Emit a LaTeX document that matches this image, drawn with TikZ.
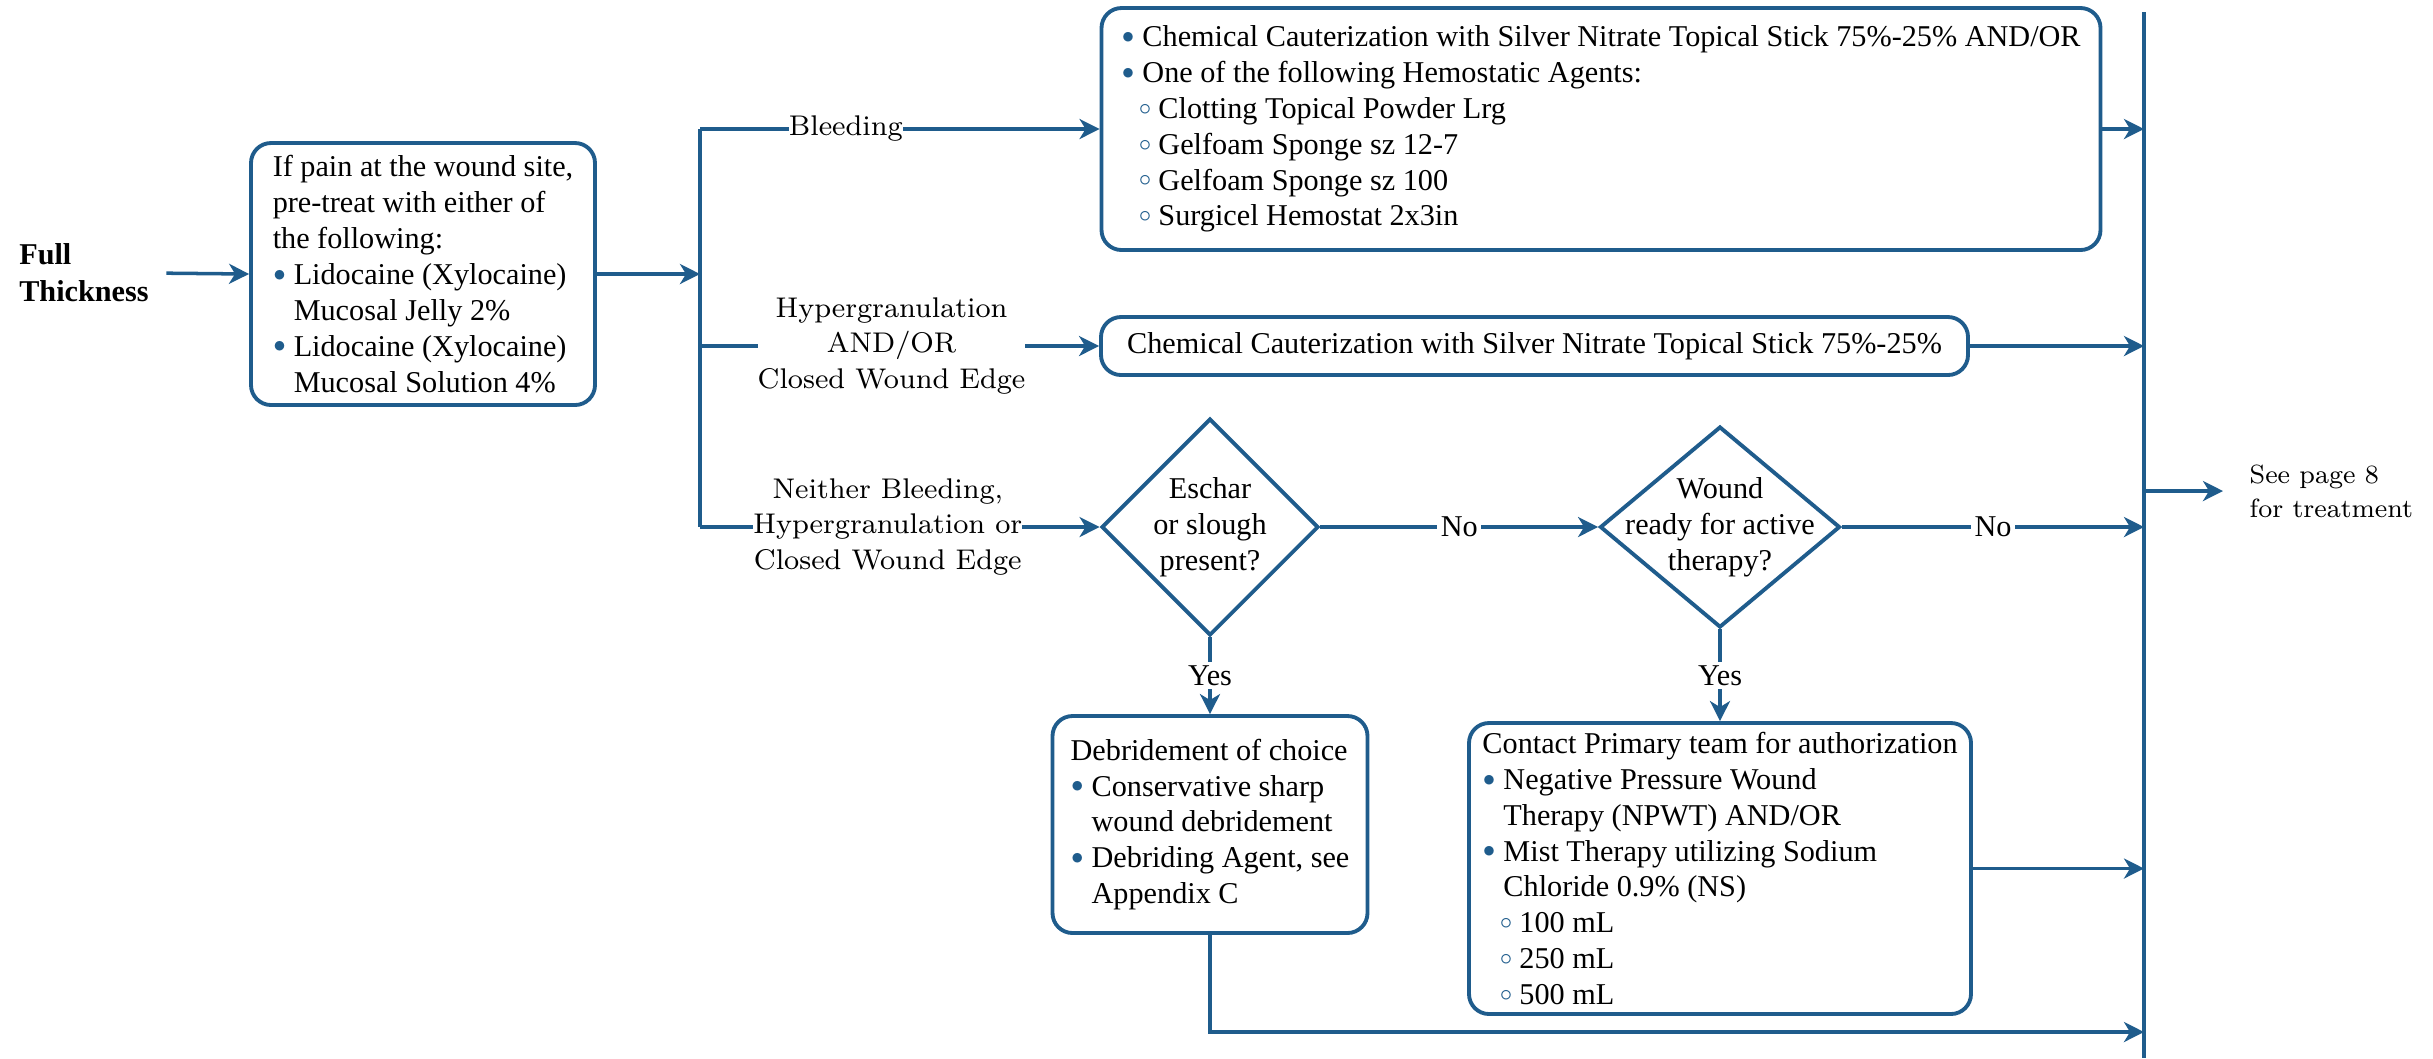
\documentclass[tikz,border=0pt]{standalone}
\usepackage{fontspec}
\usetikzlibrary{shapes.geometric,arrows.meta}
\newfontfamily\tnr{Liberation Serif}
\definecolor{vblau}{RGB}{31,92,140}
\newcommand{\pkt}{\makebox[0.21cm][l]{\raisebox{0.3ex}{\textcolor{vblau}{${\scriptstyle\bullet}$}}}}
\newcommand{\krs}{\hspace*{0.17cm}\makebox[0.2cm][l]{\raisebox{0.3ex}{\textcolor{vblau}{${\scriptstyle\circ}$}}}}
\newcommand{\einr}{\hspace*{0.21cm}}

\begin{document}
\begin{tikzpicture}[
	box/.style={draw=vblau, line width=1.1pt, rounded corners=0.2cm, align=left, inner xsep=0.1cm, inner ysep=0pt, font=\tnr\fontsize{8.6}{10.2}\selectfont},
	frage/.style={diamond, draw=vblau, line width=1.1pt, inner sep=0pt},
	ftext/.style={align=center, inner sep=0pt, font=\tnr\fontsize{8.6}{10.2}\selectfont},
	linie/.style={draw=vblau, line width=1pt},
	pfeil/.style={linie, -{Stealth[length=2mm, width=2mm, inset=0.6mm]}},
	zweig/.style={fill=white, inner xsep=0pt, inner ysep=1pt, align=center, font=\fontsize{8.1}{10.2}\selectfont},
	jn/.style={fill=white, inner sep=1pt, font=\tnr\fontsize{8.6}{10.2}\selectfont}]
	\path[use as bounding box] (0,0) rectangle (24.33,-10.58); % Rand um Grafik
	
	\node[font=\tnr\bfseries\fontsize{8.6}{10.5}\selectfont, align=left, anchor=west, inner sep=0pt] (full) at (0.186,-2.73) {Full\\Thickness};
	\node[box, minimum width=3.44cm, minimum height=2.62cm] (schmerz) at (4.23,-2.74) {If pain at the wound site,\\pre-treat with either of\\the following:\\\pkt Lidocaine (Xylocaine)\\\einr Mucosal Jelly 2\%\\\pkt Lidocaine (Xylocaine)\\\einr Mucosal Solution 4\%};
	\draw[pfeil, shorten <=0.17cm] (full.east) -- (schmerz.west);
	
	% Verzweigung
	\coordinate (vo) at (7.00,-1.29);
	\coordinate (vu) at (7.00,-5.27);
	\draw[linie] (vo) -- (vu);
	\draw[pfeil] (schmerz.east) -- (schmerz.east -| vo);
	
	\node[box, minimum width=9.99cm, minimum height=2.42cm] (blutung) at (16.01,-1.29) {\pkt Chemical Cauterization with Silver Nitrate Topical Stick 75\%-25\% AND/OR\\\pkt One of the following Hemostatic Agents:\\\krs Clotting Topical Powder Lrg\\\krs Gelfoam Sponge sz 12-7\\\krs Gelfoam Sponge sz 100\\\krs Surgicel Hemostat 2x3in};
	\node[box, align=center, minimum width=8.67cm, minimum height=0.58cm] (aetzen) at (15.345,-3.46) {Chemical Cauterization with Silver Nitrate Topical Stick 75\%-25\%};
	
	\node[frage, minimum width=2.17cm, minimum height=2.17cm] (d1) at (12.10,-5.27) {};
	\node[ftext] (d1t) at (d1) {Eschar\\or slough\\present?};
	\node[frage, minimum width=2.40cm, minimum height=2.01cm] (d2) at (17.20,-5.27) {};
	\node[ftext] (d2t) at (d2) {Wound\\ready for active\\therapy?};
	
	\draw[pfeil] (vo) -- node[zweig, pos=0.365] (lb1) {Bleeding} (blutung.west);
	\draw[pfeil] (vo |- aetzen) -- node[zweig, pos=0.48] (lb2) {Hypergranulation\\AND/OR\\Closed Wound Edge} (aetzen.west);
	\draw[pfeil] (vu) -- node[zweig, pos=0.47] (lb3) {Neither Bleeding,\\Hypergranulation or\\Closed Wound Edge} (d1.west);
	
	\node[box, minimum width=3.15cm, minimum height=2.17cm] (debr) at (12.10,-8.245) {Debridement of choice\\\pkt Conservative sharp\\\einr wound debridement\\\pkt Debriding Agent, see\\\einr Appendix C};
	\node[box, minimum width=5.02cm, minimum height=2.91cm] (npwt) at (17.20,-8.685) {Contact Primary team for authorization\\\pkt Negative Pressure Wound\\\einr Therapy (NPWT) AND/OR\\\pkt Mist Therapy utilizing Sodium\\\einr Chloride 0.9\% (NS)\\\krs 100 mL\\\krs 250 mL\\\krs 500 mL};
	
	% Sammelschiene rechts
	\coordinate (ro) at (21.44,-0.12);
	\coordinate (ru) at (21.44,-10.58);
	\draw[linie, line width=1.3pt] (ro) -- (ru);
	
	\draw[pfeil] (d1.east) -- node[jn] (no1) {No} (d2.west);
	\draw[pfeil] (d2.east) -- node[jn] (no2) {No} (d2.east -| ro);
	\draw[pfeil] (d1.south) -- node[jn] (ja1) {Yes} (debr.north);
	\draw[pfeil] (d2.south) -- node[jn] (ja2) {Yes} (npwt.north);
	
	\draw[pfeil] (blutung.east) -- (blutung.east -| ro);
	\draw[pfeil] (aetzen.east) -- (aetzen.east -| ro);
	\draw[pfeil] (npwt.east) -- (npwt.east -| ro);
	\coordinate (unten) at (21.44,-10.32);
	\draw[pfeil] (debr.south) |- (unten);
	
	\coordinate (raus) at (21.44,-4.91);
	\node[align=left, anchor=west, inner sep=0pt, font=\fontsize{7.5}{9.6}\selectfont] (seite) at (22.49,-4.91) {See page 8\\for treatment};
	\draw[pfeil, shorten >=0.26cm] (raus) -- (seite.west);
	
	%\draw[help lines] (0,0) grid (24,-11);
\end{tikzpicture}
\end{document}
